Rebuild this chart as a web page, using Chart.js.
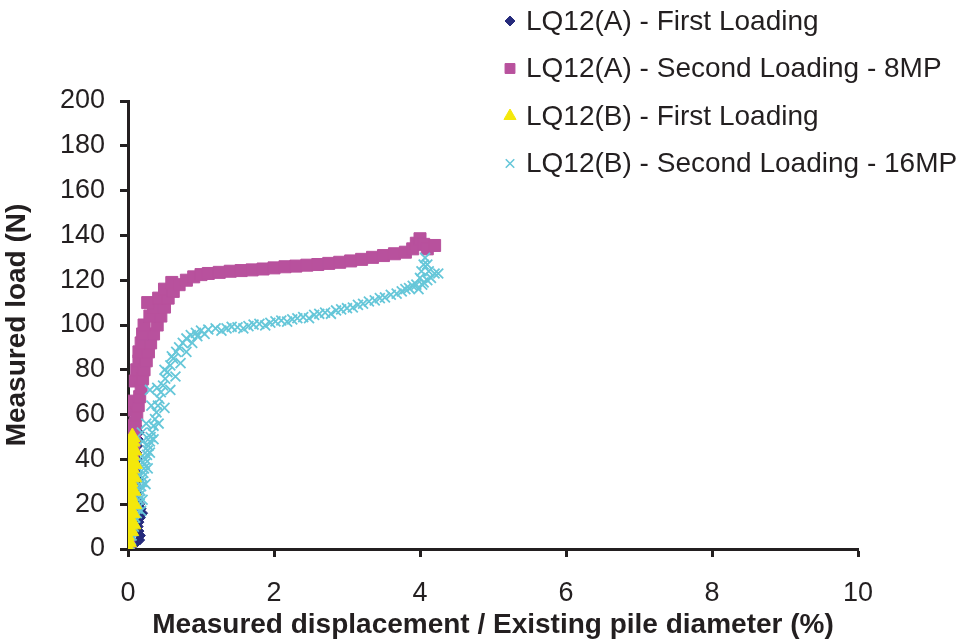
<!DOCTYPE html>
<html lang="en">
<head>
    <meta charset="UTF-8">
    <title>Measured load vs displacement - LQ12</title>
    <script src="https://cdn.jsdelivr.net/npm/chart.js"></script>
    <style>
        body {
            margin: 0;
            background: #ffffff;
        }
        .wrap {
            width: 961px;
            height: 644px;
        }
    </style>
</head>
<body>
    <div class="wrap">
        <canvas id="pileChart"></canvas>
    </div>

    <script>
        // values: [displacement %, load N]
        const lq12aFirst = [
            [0, 0], [0.03, 1], [0.08, 2], [0.12, 3], [0.16, 4], [0.17, 6], [0.15, 8],
            [0.14, 10], [0.15, 12], [0.17, 14], [0.2, 16], [0.18, 18], [0.16, 20],
            [0.15, 22], [0.14, 25], [0.13, 28], [0.13, 31], [0.12, 34], [0.12, 37],
            [0.13, 40], [0.12, 43], [0.13, 46], [0.14, 49], [0.15, 52], [0.12, 55],
            [0.1, 58], [0.08, 61]
        ];
        const lq12aSecond = [
            [0, 0], [0.01, 3], [0.01, 6], [0.02, 9], [0.02, 12], [0.03, 16], [0.03, 20],
            [0.04, 24], [0.04, 28], [0.05, 32], [0.06, 36], [0.06, 40], [0.07, 44],
            [0.08, 48], [0.09, 52], [0.03, 55], [0.1, 56], [0.05, 62], [0.12, 60],
            [0.08, 66], [0.14, 64], [0.1, 75], [0.16, 68], [0.18, 72], [0.12, 80],
            [0.2, 76], [0.15, 84], [0.22, 80], [0.25, 84], [0.15, 88], [0.28, 88],
            [0.18, 92], [0.31, 92], [0.2, 96], [0.35, 96], [0.22, 100], [0.4, 100],
            [0.3, 104], [0.45, 104], [0.35, 108], [0.5, 108], [0.27, 110], [0.42, 112],
            [0.55, 112], [0.5, 116], [0.62, 115], [0.6, 119], [0.7, 118], [0.8, 120],
            [0.9, 121.5], [1.0, 122.5], [1.1, 123], [1.25, 123.5], [1.4, 124],
            [1.55, 124.3], [1.7, 124.6], [1.85, 125], [2.0, 125.5], [2.15, 126],
            [2.3, 126.3], [2.45, 126.7], [2.6, 127], [2.75, 127.5], [2.9, 128],
            [3.05, 128.6], [3.2, 129.3], [3.35, 130.2], [3.5, 131], [3.65, 131.8],
            [3.8, 132.5], [3.9, 134], [3.95, 136.5], [4.0, 138.5], [4.05, 136],
            [4.1, 134], [4.2, 135.5]
        ];
        const lq12bFirst = [
            [0, 0], [0.01, 3], [-0.02, 6], [0.04, 8], [0.01, 9], [0.07, 11], [0.02, 12],
            [-0.02, 15], [0.06, 16], [0.02, 18], [0.08, 20], [0.03, 21], [-0.01, 23],
            [0.02, 24], [0.07, 26], [0.03, 27], [-0.01, 29], [0.03, 30], [0.08, 32],
            [0.04, 33], [0.0, 35], [0.05, 36], [0.09, 38], [0.04, 39], [0.01, 41],
            [0.05, 42], [0.08, 44], [0.06, 45], [0.03, 47], [0.06, 48], [0.06, 50]
        ];
        const lq12bSecond = [
            [0, 0], [0.02, 2], [0.04, 4], [0.05, 6], [0.06, 8], [0.08, 10], [0.09, 12],
            [0.05, 14], [0.1, 14], [0.12, 16], [0.18, 17], [0.13, 18], [0.08, 20],
            [0.14, 20], [0.15, 22], [0.2, 22], [0.16, 24], [0.1, 26], [0.17, 26],
            [0.18, 28], [0.24, 29], [0.19, 30], [0.12, 32], [0.2, 32], [0.21, 34],
            [0.27, 36], [0.22, 36], [0.23, 38], [0.15, 40], [0.24, 40], [0.26, 42],
            [0.3, 43], [0.27, 44], [0.28, 46], [0.2, 48], [0.3, 48], [0.35, 49],
            [0.31, 50], [0.19, 52], [0.33, 52], [0.35, 55], [0.25, 56], [0.42, 56],
            [0.37, 58], [0.39, 61], [0.5, 63], [0.32, 64], [0.41, 64], [0.43, 67],
            [0.3, 71], [0.45, 70], [0.4, 72], [0.58, 71], [0.48, 73], [0.51, 76],
            [0.65, 77], [0.5, 80], [0.54, 79], [0.58, 82], [0.72, 83], [0.6, 86],
            [0.62, 85], [0.66, 88], [0.8, 88], [0.7, 90], [0.75, 92], [0.88, 92],
            [0.8, 94], [0.86, 95.5], [0.95, 95], [0.93, 96.5], [1.0, 97.5], [1.05, 96],
            [1.1, 98], [1.2, 98.5], [1.28, 97.5], [1.35, 98.5], [1.42, 99.2],
            [1.5, 99], [1.58, 98.5], [1.65, 99.5], [1.72, 100.2], [1.8, 100.5],
            [1.88, 99.8], [1.95, 101], [2.02, 101.6], [2.1, 102], [2.18, 101.5],
            [2.25, 102.5], [2.32, 103], [2.4, 103.5], [2.48, 103], [2.55, 104.5],
            [2.62, 105], [2.7, 105.5], [2.78, 105], [2.85, 106.5], [2.92, 107],
            [3.0, 107.5], [3.08, 107.8], [3.15, 109], [3.22, 109.5], [3.3, 110.5],
            [3.38, 111], [3.45, 112], [3.52, 112.3], [3.6, 113.5], [3.68, 114],
            [3.75, 115], [3.8, 116], [3.85, 116.5], [3.9, 117.5], [3.95, 118],
            [3.98, 116], [4.0, 121], [4.02, 124], [4.05, 127], [4.07, 130], [4.1, 127],
            [4.03, 118], [4.05, 119], [4.1, 120], [4.15, 121], [4.12, 124], [4.2, 123],
            [4.25, 123]
        ];

        const seriesNames = [
            'LQ12(A) - First Loading',
            'LQ12(A) - Second Loading - 8MP',
            'LQ12(B) - First Loading',
            'LQ12(B) - Second Loading - 16MP'
        ];
        const xTicks = [0, 2, 4, 6, 8, 10];
        const yTicks = [0, 20, 40, 60, 80, 100, 120, 140, 160, 180, 200];

        const ink = '#231f20';
        const toXY = arr => arr.map(p => ({ x: p[0], y: p[1] }));

        // legend drawn by hand, top right like the excel original
        const cornerLegend = {
            id: 'cornerLegend',
            afterDraw(chart) {
                const ctx = chart.ctx;
                ctx.save();
                chart.data.datasets.forEach((ds, i) => {
                    const y = 21 + i * 47.5;
                    ctx.fillStyle = ds.backgroundColor;
                    ctx.strokeStyle = ds.borderColor;
                    ctx.lineWidth = ds.legendBorder;
                    Chart.helpers.drawPoint(ctx, {
                        pointStyle: ds.pointStyle,
                        radius: ds.legendRadius,
                        rotation: 0,
                        borderWidth: ds.legendBorder
                    }, 510, y);
                    ctx.fillStyle = ink;
                    ctx.font = '28px "Liberation Sans", Arial, sans-serif';
                    ctx.textBaseline = 'middle';
                    ctx.textAlign = 'left';
                    ctx.fillText(ds.label, 526, y + 1);
                });
                ctx.restore();
            }
        };

        Chart.defaults.font.family = '"Liberation Sans", Arial, sans-serif';
        Chart.defaults.color = ink;

        new Chart(document.getElementById('pileChart'), {
            type: 'scatter',
            data: {
                datasets: [
                    {
                        label: seriesNames[0],
                        data: toXY(lq12aFirst),
                        pointStyle: 'rectRot',
                        pointRadius: 5,
                        backgroundColor: '#262b7c',
                        borderColor: '#262b7c',
                        borderWidth: 1,
                        legendRadius: 5,
                        legendBorder: 1,
                        order: 5
                    },
                    {
                        label: seriesNames[1],
                        data: toXY(lq12aSecond),
                        pointStyle: 'rect',
                        pointRadius: 8.5,
                        backgroundColor: '#b8519d',
                        borderColor: '#b8519d',
                        borderWidth: 1,
                        legendRadius: 7,
                        legendBorder: 1,
                        order: 4
                    },
                    {
                        label: seriesNames[2],
                        data: toXY(lq12bFirst),
                        pointStyle: 'triangle',
                        pointRadius: 9,
                        backgroundColor: '#f4e80c',
                        borderColor: '#f4e80c',
                        borderWidth: 1,
                        legendRadius: 7,
                        legendBorder: 1,
                        order: 1
                    },
                    {
                        label: seriesNames[3],
                        data: toXY(lq12bSecond),
                        pointStyle: 'crossRot',
                        pointRadius: 7,
                        backgroundColor: '#66c7d9',
                        borderColor: '#66c7d9',
                        borderWidth: 1.8,
                        legendRadius: 6,
                        legendBorder: 1.6,
                        order: 3
                    }
                ]
            },
            options: {
                responsive: true,
                maintainAspectRatio: false,
                animation: false,
                layout: {
                    padding: { top: 101, right: 103, left: 0, bottom: 0 }
                },
                plugins: {
                    legend: { display: false },
                    tooltip: { enabled: false }
                },
                scales: {
                    x: {
                        type: 'linear',
                        min: 0,
                        max: 10,
                        afterFit(scale) { scale.height = 95; },
                        afterBuildTicks(scale) { scale.ticks = xTicks.map(v => ({ value: v })); },
                        border: { color: ink, width: 3 },
                        grid: {
                            drawOnChartArea: false,
                            drawTicks: true,
                            tickLength: 8,
                            tickWidth: 3,
                            tickColor: ink
                        },
                        ticks: {
                            font: { size: 27 },
                            color: ink,
                            padding: 20,
                            maxRotation: 0
                        },
                        title: {
                            display: true,
                            text: 'Measured displacement / Existing pile diameter (%)',
                            font: { size: 28, weight: 'bold' },
                            color: ink,
                            padding: { top: 0, bottom: 2 }
                        }
                    },
                    y: {
                        type: 'linear',
                        min: 0,
                        max: 200,
                        afterFit(scale) { scale.width = 128; },
                        afterBuildTicks(scale) { scale.ticks = yTicks.map(v => ({ value: v })); },
                        border: { color: ink, width: 3 },
                        grid: {
                            drawOnChartArea: false,
                            drawTicks: true,
                            tickLength: 8,
                            tickWidth: 3,
                            tickColor: ink
                        },
                        ticks: {
                            font: { size: 27 },
                            color: ink,
                            padding: 15
                        },
                        title: {
                            display: true,
                            text: 'Measured load (N)',
                            font: { size: 28, weight: 'bold' },
                            color: ink,
                            padding: { top: 0, bottom: 11 }
                        }
                    }
                }
            },
            plugins: [cornerLegend]
        });
    </script>
</body>
</html>
